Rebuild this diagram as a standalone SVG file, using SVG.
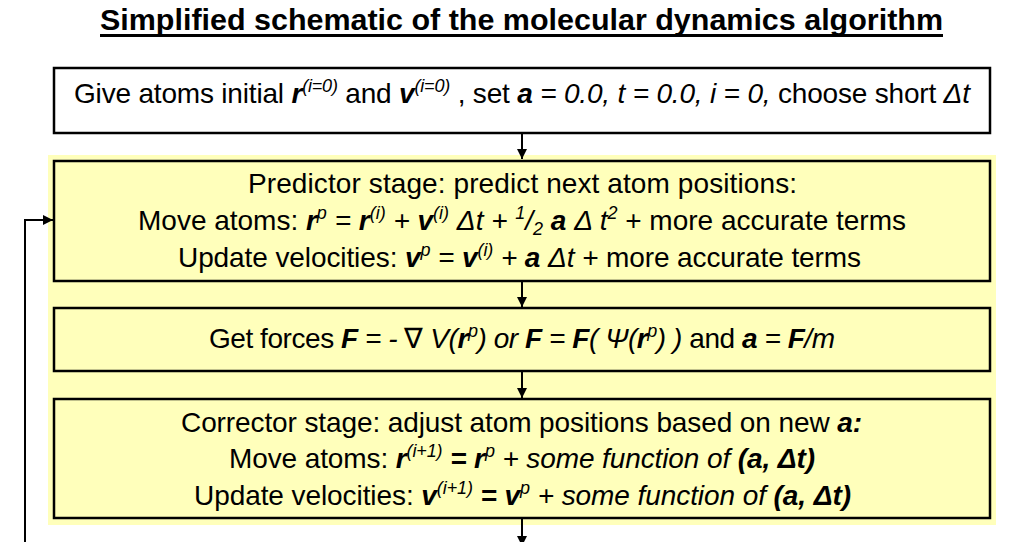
<svg xmlns="http://www.w3.org/2000/svg" width="1009" height="542" viewBox="0 0 1009 542">
<style>
.t{font-family:"Liberation Sans",Arial,sans-serif;font-size:28px;fill:#000}
.i{font-style:italic}
.n{font-style:normal}
.bi{font-weight:bold;font-style:italic}
.s{font-size:18px}
.box{fill:none;stroke:#000;stroke-width:2.5}
.wbox{fill:#fff;stroke:#000;stroke-width:2.5}
.ln{fill:none;stroke:#000;stroke-width:2}
.title{font-family:"Liberation Sans",Arial,sans-serif;font-size:29px;font-weight:bold;fill:#000}
</style>
<defs>
<marker id="ahd" viewBox="0 0 10 10" refX="10" refY="5" markerWidth="10" markerHeight="10" orient="auto" markerUnits="userSpaceOnUse">
<path d="M0,0 L10,5 L0,10 Z" fill="#000"/>
</marker>
</defs>
<rect width="1009" height="542" fill="#fff"/>
<g id="title">
<text class="title" x="521.5" y="30" text-anchor="middle" textLength="843" lengthAdjust="spacingAndGlyphs">Simplified schematic of the molecular dynamics algorithm</text>
<rect x="100" y="34" width="843" height="3" fill="#000"/>
</g>
<rect id="loop-region" x="48" y="155" width="948" height="370" fill="#FFFFBB"/>
<g id="connectors">
<line class="ln" x1="522" y1="133" x2="522" y2="159" marker-end="url(#ahd)"/>
<line class="ln" x1="522" y1="281" x2="522" y2="307" marker-end="url(#ahd)"/>
<line class="ln" x1="522" y1="371" x2="522" y2="398" marker-end="url(#ahd)"/>
<line class="ln" x1="522" y1="518" x2="522" y2="546" marker-end="url(#ahd)"/>
<polyline class="ln" points="25,545 25,220 53,220" stroke="#333" marker-end="url(#ahd)"/>
</g>
<g id="init">
<rect class="wbox" x="54" y="68" width="936" height="65"/>
<text class="t" x="522" y="103" text-anchor="middle" textLength="896">Give atoms initial <tspan class="bi">r</tspan><tspan class="i s" dy="-11">(i=0)</tspan><tspan dy="11"> and </tspan><tspan class="bi">v</tspan><tspan class="i s" dy="-11">(i=0)</tspan><tspan dy="11"> , set </tspan><tspan class="bi">a</tspan><tspan class="i"> = 0.0, t = 0.0, i = 0,</tspan> choose short <tspan class="i">Δt</tspan></text>
</g>
<g id="predictor">
<rect class="box" x="54" y="161" width="936" height="120"/>
<text class="t" x="522.5" y="193" text-anchor="middle" textLength="549">Predictor stage: predict next atom positions:</text>
<text class="t" x="522" y="230" text-anchor="middle" textLength="768">Move atoms: <tspan class="bi">r</tspan><tspan class="i s" dy="-11">p</tspan><tspan class="i" dy="11"> = </tspan><tspan class="bi">r</tspan><tspan class="i s" dy="-11">(i)</tspan><tspan class="i" dy="11"> + </tspan><tspan class="bi">v</tspan><tspan class="i s" dy="-11">(i)</tspan><tspan class="i" dy="11"> Δt + </tspan><tspan class="i s" dy="-11">1</tspan><tspan class="i" dy="11">/</tspan><tspan class="i s" dy="5">2</tspan><tspan dy="-5"> </tspan><tspan class="bi">a</tspan><tspan class="i"> Δ t</tspan><tspan class="i s" dy="-11">2</tspan><tspan dy="11"> + more accurate terms</tspan></text>
<text class="t" x="519.5" y="267" text-anchor="middle" textLength="683">Update velocities: <tspan class="bi">v</tspan><tspan class="i s" dy="-11">p</tspan><tspan class="i" dy="11"> = </tspan><tspan class="bi">v</tspan><tspan class="i s" dy="-11">(i)</tspan><tspan class="i" dy="11"> + </tspan><tspan class="bi">a</tspan><tspan class="i"> Δt +</tspan> more accurate terms</text>
</g>
<g id="forces">
<rect class="box" x="54" y="308" width="936" height="63"/>
<text class="t" x="522" y="348" text-anchor="middle" textLength="626">Get forces <tspan class="bi">F</tspan><tspan class="i"> = - </tspan>∇<tspan class="i"> V(</tspan><tspan class="bi">r</tspan><tspan class="i s" dy="-11">p</tspan><tspan class="i" dy="11">) or </tspan><tspan class="bi">F</tspan><tspan class="i"> = </tspan><tspan class="bi">F</tspan><tspan class="i">( Ψ(</tspan><tspan class="bi">r</tspan><tspan class="i s" dy="-11">p</tspan><tspan class="i" dy="11">) )</tspan> and <tspan class="bi">a</tspan><tspan class="i"> = </tspan><tspan class="bi">F</tspan><tspan class="i">/m</tspan></text>
</g>
<g id="corrector">
<rect class="box" x="54" y="399" width="936" height="119"/>
<text class="t" x="521.5" y="432" text-anchor="middle" textLength="681">Corrector stage: adjust atom positions based on new <tspan class="bi">a:</tspan></text>
<text class="t" x="522" y="468" text-anchor="middle" textLength="586">Move atoms: <tspan class="bi">r</tspan><tspan class="i s" dy="-11">(i+1)</tspan><tspan class="bi" dy="11"> = </tspan><tspan class="bi">r</tspan><tspan class="i s" dy="-11">p</tspan><tspan class="i" dy="11"> + some function of </tspan><tspan class="bi">(a, Δt)</tspan></text>
<text class="t" x="522.5" y="505" text-anchor="middle" textLength="657">Update velocities: <tspan class="bi">v</tspan><tspan class="i s" dy="-11">(i+1)</tspan><tspan class="bi" dy="11"> = </tspan><tspan class="bi">v</tspan><tspan class="i s" dy="-11">p</tspan><tspan class="i" dy="11"> + some function of </tspan><tspan class="bi">(a, Δt)</tspan></text>
</g>
</svg>
